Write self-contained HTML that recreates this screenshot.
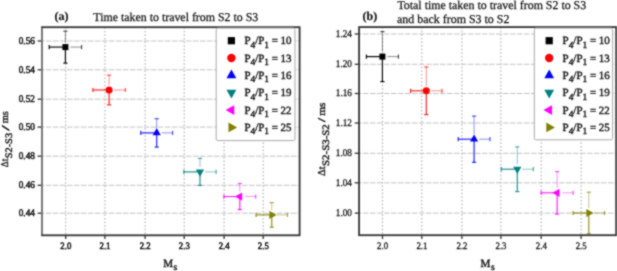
<!DOCTYPE html><html><head><meta charset="utf-8"><style>html,body{margin:0;padding:0;background:#fff;width:617px;height:271px;overflow:hidden}svg{display:block}text{text-rendering:geometricPrecision}</style></head><body>
<svg width="617" height="271" viewBox="0 0 617 271">
<defs><filter id="bl" x="-5%" y="-5%" width="110%" height="110%" color-interpolation-filters="sRGB"><feConvolveMatrix order="3" kernelMatrix="1 2 1 2 8 2 1 2 1" divisor="20" edgeMode="duplicate" preserveAlpha="false"/></filter></defs>
<rect width="617" height="271" fill="#fff"/>
<g filter="url(#bl)">
<line x1="65.70" y1="27.2" x2="65.70" y2="235.3" stroke="#a8a8a8" stroke-width="1" stroke-dasharray="1.6 2"/>
<line x1="104.90" y1="27.2" x2="104.90" y2="235.3" stroke="#a8a8a8" stroke-width="1" stroke-dasharray="1.6 2"/>
<line x1="145.10" y1="27.2" x2="145.10" y2="235.3" stroke="#a8a8a8" stroke-width="1" stroke-dasharray="1.6 2"/>
<line x1="184.20" y1="27.2" x2="184.20" y2="235.3" stroke="#a8a8a8" stroke-width="1" stroke-dasharray="1.6 2"/>
<line x1="224.10" y1="27.2" x2="224.10" y2="235.3" stroke="#a8a8a8" stroke-width="1" stroke-dasharray="1.6 2"/>
<line x1="263.20" y1="27.2" x2="263.20" y2="235.3" stroke="#a8a8a8" stroke-width="1" stroke-dasharray="1.6 2"/>
<line x1="42" y1="41.00" x2="299.6" y2="41.00" stroke="#bcbcbc" stroke-width="0.9" stroke-dasharray="5.6 1.4" stroke-dashoffset="3.1"/>
<line x1="42" y1="69.80" x2="299.6" y2="69.80" stroke="#bcbcbc" stroke-width="0.9" stroke-dasharray="5.6 1.4" stroke-dashoffset="3.1"/>
<line x1="42" y1="99.20" x2="299.6" y2="99.20" stroke="#bcbcbc" stroke-width="0.9" stroke-dasharray="5.6 1.4" stroke-dashoffset="3.1"/>
<line x1="42" y1="127.10" x2="299.6" y2="127.10" stroke="#bcbcbc" stroke-width="0.9" stroke-dasharray="5.6 1.4" stroke-dashoffset="3.1"/>
<line x1="42" y1="156.20" x2="299.6" y2="156.20" stroke="#bcbcbc" stroke-width="0.9" stroke-dasharray="5.6 1.4" stroke-dashoffset="3.1"/>
<line x1="42" y1="185.30" x2="299.6" y2="185.30" stroke="#bcbcbc" stroke-width="0.9" stroke-dasharray="5.6 1.4" stroke-dashoffset="3.1"/>
<line x1="42" y1="213.20" x2="299.6" y2="213.20" stroke="#bcbcbc" stroke-width="0.9" stroke-dasharray="5.6 1.4" stroke-dashoffset="3.1"/>
<line x1="65.70" y1="235.3" x2="65.70" y2="239.10000000000002" stroke="#333333" stroke-width="1.3"/>
<text x="65.80" y="248.60" font-size="9.8" font-family="Liberation Serif, serif" fill="#111111" stroke="#111111" stroke-width="0.5" text-anchor="middle" textLength="11" lengthAdjust="spacingAndGlyphs">2.0</text>
<line x1="104.90" y1="235.3" x2="104.90" y2="239.10000000000002" stroke="#333333" stroke-width="1.3"/>
<text x="105.00" y="248.60" font-size="9.8" font-family="Liberation Serif, serif" fill="#111111" stroke="#111111" stroke-width="0.5" text-anchor="middle" textLength="11" lengthAdjust="spacingAndGlyphs">2.1</text>
<line x1="145.10" y1="235.3" x2="145.10" y2="239.10000000000002" stroke="#333333" stroke-width="1.3"/>
<text x="145.20" y="248.60" font-size="9.8" font-family="Liberation Serif, serif" fill="#111111" stroke="#111111" stroke-width="0.5" text-anchor="middle" textLength="11" lengthAdjust="spacingAndGlyphs">2.2</text>
<line x1="184.20" y1="235.3" x2="184.20" y2="239.10000000000002" stroke="#333333" stroke-width="1.3"/>
<text x="184.30" y="248.60" font-size="9.8" font-family="Liberation Serif, serif" fill="#111111" stroke="#111111" stroke-width="0.5" text-anchor="middle" textLength="11" lengthAdjust="spacingAndGlyphs">2.3</text>
<line x1="224.10" y1="235.3" x2="224.10" y2="239.10000000000002" stroke="#333333" stroke-width="1.3"/>
<text x="224.20" y="248.60" font-size="9.8" font-family="Liberation Serif, serif" fill="#111111" stroke="#111111" stroke-width="0.5" text-anchor="middle" textLength="11" lengthAdjust="spacingAndGlyphs">2.4</text>
<line x1="263.20" y1="235.3" x2="263.20" y2="239.10000000000002" stroke="#333333" stroke-width="1.3"/>
<text x="263.30" y="248.60" font-size="9.8" font-family="Liberation Serif, serif" fill="#111111" stroke="#111111" stroke-width="0.5" text-anchor="middle" textLength="11" lengthAdjust="spacingAndGlyphs">2.5</text>
<line x1="37.6" y1="41.00" x2="42" y2="41.00" stroke="#333333" stroke-width="1.3"/>
<text x="34.90" y="43.80" font-size="10.3" font-family="Liberation Serif, serif" fill="#111111" stroke="#111111" stroke-width="0.5" text-anchor="end" textLength="16.2" lengthAdjust="spacingAndGlyphs">0.56</text>
<line x1="37.6" y1="69.80" x2="42" y2="69.80" stroke="#333333" stroke-width="1.3"/>
<text x="34.90" y="72.60" font-size="10.3" font-family="Liberation Serif, serif" fill="#111111" stroke="#111111" stroke-width="0.5" text-anchor="end" textLength="16.2" lengthAdjust="spacingAndGlyphs">0.54</text>
<line x1="37.6" y1="99.20" x2="42" y2="99.20" stroke="#333333" stroke-width="1.3"/>
<text x="34.90" y="102.00" font-size="10.3" font-family="Liberation Serif, serif" fill="#111111" stroke="#111111" stroke-width="0.5" text-anchor="end" textLength="16.2" lengthAdjust="spacingAndGlyphs">0.52</text>
<line x1="37.6" y1="127.10" x2="42" y2="127.10" stroke="#333333" stroke-width="1.3"/>
<text x="34.90" y="129.90" font-size="10.3" font-family="Liberation Serif, serif" fill="#111111" stroke="#111111" stroke-width="0.5" text-anchor="end" textLength="16.2" lengthAdjust="spacingAndGlyphs">0.50</text>
<line x1="37.6" y1="156.20" x2="42" y2="156.20" stroke="#333333" stroke-width="1.3"/>
<text x="34.90" y="159.00" font-size="10.3" font-family="Liberation Serif, serif" fill="#111111" stroke="#111111" stroke-width="0.5" text-anchor="end" textLength="16.2" lengthAdjust="spacingAndGlyphs">0.48</text>
<line x1="37.6" y1="185.30" x2="42" y2="185.30" stroke="#333333" stroke-width="1.3"/>
<text x="34.90" y="188.10" font-size="10.3" font-family="Liberation Serif, serif" fill="#111111" stroke="#111111" stroke-width="0.5" text-anchor="end" textLength="16.2" lengthAdjust="spacingAndGlyphs">0.46</text>
<line x1="37.6" y1="213.20" x2="42" y2="213.20" stroke="#333333" stroke-width="1.3"/>
<text x="34.90" y="216.00" font-size="10.3" font-family="Liberation Serif, serif" fill="#111111" stroke="#111111" stroke-width="0.5" text-anchor="end" textLength="16.2" lengthAdjust="spacingAndGlyphs">0.44</text>
<rect x="42" y="27.2" width="257.6" height="208.10000000000002" fill="none" stroke="#333333" stroke-width="1.8"/>
<line x1="42" y1="28.099999999999998" x2="42" y2="234.4" stroke="#ffffff" stroke-width="1.8" stroke-opacity="0.3"/>
<g stroke="#000000" stroke-width="0.9" opacity="0.5">
<line x1="70.4" y1="47.1" x2="81.60000000000001" y2="47.1"/>
<line x1="65.4" y1="42.1" x2="65.4" y2="31.1"/>
</g>
<g stroke="#000000" stroke-width="1.1" opacity="0.75">
<line x1="81.60000000000001" y1="45.0" x2="81.60000000000001" y2="49.2"/>
<line x1="63.300000000000004" y1="31.1" x2="67.5" y2="31.1"/>
</g>
<g stroke="#000000" stroke-width="1.15" opacity="1">
<line x1="65.4" y1="47.1" x2="49.2" y2="47.1"/>
<line x1="49.2" y1="45.0" x2="49.2" y2="49.2"/>
<line x1="65.4" y1="47.1" x2="65.4" y2="63.1"/>
<line x1="63.300000000000004" y1="63.1" x2="67.5" y2="63.1"/>
</g>
<rect x="62.40" y="44.10" width="6.00" height="6.00" fill="#000000"/>
<g stroke="#ff0000" stroke-width="0.9" opacity="0.5">
<line x1="114.1" y1="90.0" x2="125.3" y2="90.0"/>
<line x1="109.1" y1="85.0" x2="109.1" y2="75.2"/>
</g>
<g stroke="#ff0000" stroke-width="1.1" opacity="0.75">
<line x1="125.3" y1="87.9" x2="125.3" y2="92.1"/>
<line x1="107.0" y1="75.2" x2="111.19999999999999" y2="75.2"/>
</g>
<g stroke="#ff0000" stroke-width="1.15" opacity="0.9">
<line x1="109.1" y1="90.0" x2="92.89999999999999" y2="90.0"/>
<line x1="92.89999999999999" y1="87.9" x2="92.89999999999999" y2="92.1"/>
<line x1="109.1" y1="90.0" x2="109.1" y2="104.8"/>
<line x1="107.0" y1="104.8" x2="111.19999999999999" y2="104.8"/>
</g>
<circle cx="109.1" cy="90.0" r="3.50" fill="#ff0000"/>
<g stroke="#0000ff" stroke-width="0.9" opacity="0.5">
<line x1="161.7" y1="132.9" x2="172.6" y2="132.9"/>
<line x1="156.7" y1="127.9" x2="156.7" y2="118.7"/>
</g>
<g stroke="#0000ff" stroke-width="1.1" opacity="0.75">
<line x1="172.6" y1="130.8" x2="172.6" y2="135.0"/>
<line x1="154.6" y1="118.7" x2="158.79999999999998" y2="118.7"/>
</g>
<g stroke="#0000ff" stroke-width="1.15" opacity="0.9">
<line x1="156.7" y1="132.9" x2="140.79999999999998" y2="132.9"/>
<line x1="140.79999999999998" y1="130.8" x2="140.79999999999998" y2="135.0"/>
<line x1="156.7" y1="132.9" x2="156.7" y2="147.1"/>
<line x1="154.6" y1="147.1" x2="158.79999999999998" y2="147.1"/>
</g>
<polygon points="156.70,128.10 152.60,135.30 160.80,135.30" fill="#0000ff"/>
<g stroke="#008080" stroke-width="0.9" opacity="0.5">
<line x1="205.0" y1="171.9" x2="216.1" y2="171.9"/>
<line x1="200.0" y1="166.9" x2="200.0" y2="158.4"/>
</g>
<g stroke="#008080" stroke-width="1.1" opacity="0.75">
<line x1="216.1" y1="169.8" x2="216.1" y2="174.0"/>
<line x1="197.9" y1="158.4" x2="202.1" y2="158.4"/>
</g>
<g stroke="#008080" stroke-width="1.15" opacity="0.9">
<line x1="200.0" y1="171.9" x2="183.9" y2="171.9"/>
<line x1="183.9" y1="169.8" x2="183.9" y2="174.0"/>
<line x1="200.0" y1="171.9" x2="200.0" y2="185.4"/>
<line x1="197.9" y1="185.4" x2="202.1" y2="185.4"/>
</g>
<polygon points="200.00,176.70 195.90,169.50 204.10,169.50" fill="#008080"/>
<g stroke="#ff00ff" stroke-width="0.9" opacity="0.5">
<line x1="244.8" y1="196.55" x2="255.70000000000002" y2="196.55"/>
<line x1="239.8" y1="191.55" x2="239.8" y2="183.5"/>
</g>
<g stroke="#ff00ff" stroke-width="1.1" opacity="0.75">
<line x1="255.70000000000002" y1="194.45000000000002" x2="255.70000000000002" y2="198.65"/>
<line x1="237.70000000000002" y1="183.5" x2="241.9" y2="183.5"/>
</g>
<g stroke="#ff00ff" stroke-width="1.15" opacity="0.9">
<line x1="239.8" y1="196.55" x2="223.9" y2="196.55"/>
<line x1="223.9" y1="194.45000000000002" x2="223.9" y2="198.65"/>
<line x1="239.8" y1="196.55" x2="239.8" y2="209.60000000000002"/>
<line x1="237.70000000000002" y1="209.60000000000002" x2="241.9" y2="209.60000000000002"/>
</g>
<polygon points="235.00,196.55 242.20,192.45 242.20,200.65" fill="#ff00ff"/>
<g stroke="#808000" stroke-width="0.9" opacity="0.5">
<line x1="276.75" y1="214.9" x2="287.4" y2="214.9"/>
<line x1="271.75" y1="209.9" x2="271.75" y2="202.65"/>
</g>
<g stroke="#808000" stroke-width="1.1" opacity="0.75">
<line x1="287.4" y1="212.8" x2="287.4" y2="217.0"/>
<line x1="269.65" y1="202.65" x2="273.85" y2="202.65"/>
</g>
<g stroke="#808000" stroke-width="1.15" opacity="0.9">
<line x1="271.75" y1="214.9" x2="256.1" y2="214.9"/>
<line x1="256.1" y1="212.8" x2="256.1" y2="217.0"/>
<line x1="271.75" y1="214.9" x2="271.75" y2="227.15"/>
<line x1="269.65" y1="227.15" x2="273.85" y2="227.15"/>
</g>
<polygon points="276.55,214.90 269.35,210.80 269.35,219.00" fill="#808000"/>
<rect x="216.2" y="28" width="78.80000000000001" height="112.6" rx="1.5" fill="#fff" stroke="#a8a8a8" stroke-width="1"/>
<rect x="227.80" y="37.10" width="7.20" height="7.20" fill="#000000"/>
<text x="244.4" y="44.40" font-size="11" font-family="Liberation Serif, serif" fill="#111111" stroke="#111111" stroke-width="0.38" textLength="47.2" lengthAdjust="spacingAndGlyphs">P<tspan font-size="9.4" dy="3.2">4</tspan><tspan dy="-3.2">/P</tspan><tspan font-size="9.4" dy="3.2">1</tspan><tspan dy="-3.2"> = 10</tspan></text>
<circle cx="231.4" cy="58.040000000000006" r="4.20" fill="#ff0000"/>
<text x="244.4" y="61.74" font-size="11" font-family="Liberation Serif, serif" fill="#111111" stroke="#111111" stroke-width="0.38" textLength="47.2" lengthAdjust="spacingAndGlyphs">P<tspan font-size="9.4" dy="3.2">4</tspan><tspan dy="-3.2">/P</tspan><tspan font-size="9.4" dy="3.2">1</tspan><tspan dy="-3.2"> = 13</tspan></text>
<polygon points="231.40,69.62 226.48,78.26 236.32,78.26" fill="#0000ff"/>
<text x="244.4" y="79.08" font-size="11" font-family="Liberation Serif, serif" fill="#111111" stroke="#111111" stroke-width="0.38" textLength="47.2" lengthAdjust="spacingAndGlyphs">P<tspan font-size="9.4" dy="3.2">4</tspan><tspan dy="-3.2">/P</tspan><tspan font-size="9.4" dy="3.2">1</tspan><tspan dy="-3.2"> = 16</tspan></text>
<polygon points="231.40,98.48 226.48,89.84 236.32,89.84" fill="#008080"/>
<text x="244.4" y="96.42" font-size="11" font-family="Liberation Serif, serif" fill="#111111" stroke="#111111" stroke-width="0.38" textLength="47.2" lengthAdjust="spacingAndGlyphs">P<tspan font-size="9.4" dy="3.2">4</tspan><tspan dy="-3.2">/P</tspan><tspan font-size="9.4" dy="3.2">1</tspan><tspan dy="-3.2"> = 19</tspan></text>
<polygon points="225.64,110.06 234.28,105.14 234.28,114.98" fill="#ff00ff"/>
<text x="244.4" y="113.76" font-size="11" font-family="Liberation Serif, serif" fill="#111111" stroke="#111111" stroke-width="0.38" textLength="47.2" lengthAdjust="spacingAndGlyphs">P<tspan font-size="9.4" dy="3.2">4</tspan><tspan dy="-3.2">/P</tspan><tspan font-size="9.4" dy="3.2">1</tspan><tspan dy="-3.2"> = 22</tspan></text>
<polygon points="237.16,127.40 228.52,122.48 228.52,132.32" fill="#808000"/>
<text x="244.4" y="131.10" font-size="11" font-family="Liberation Serif, serif" fill="#111111" stroke="#111111" stroke-width="0.38" textLength="47.2" lengthAdjust="spacingAndGlyphs">P<tspan font-size="9.4" dy="3.2">4</tspan><tspan dy="-3.2">/P</tspan><tspan font-size="9.4" dy="3.2">1</tspan><tspan dy="-3.2"> = 25</tspan></text>
<line x1="382.50" y1="27.1" x2="382.50" y2="235.2" stroke="#a8a8a8" stroke-width="1" stroke-dasharray="1.6 2"/>
<line x1="421.80" y1="27.1" x2="421.80" y2="235.2" stroke="#a8a8a8" stroke-width="1" stroke-dasharray="1.6 2"/>
<line x1="461.90" y1="27.1" x2="461.90" y2="235.2" stroke="#a8a8a8" stroke-width="1" stroke-dasharray="1.6 2"/>
<line x1="500.90" y1="27.1" x2="500.90" y2="235.2" stroke="#a8a8a8" stroke-width="1" stroke-dasharray="1.6 2"/>
<line x1="541.20" y1="27.1" x2="541.20" y2="235.2" stroke="#a8a8a8" stroke-width="1" stroke-dasharray="1.6 2"/>
<line x1="581.10" y1="27.1" x2="581.10" y2="235.2" stroke="#a8a8a8" stroke-width="1" stroke-dasharray="1.6 2"/>
<line x1="359.1" y1="34.00" x2="616.2" y2="34.00" stroke="#bcbcbc" stroke-width="0.9" stroke-dasharray="5.6 1.4" stroke-dashoffset="3.1"/>
<line x1="359.1" y1="64.30" x2="616.2" y2="64.30" stroke="#bcbcbc" stroke-width="0.9" stroke-dasharray="5.6 1.4" stroke-dashoffset="3.1"/>
<line x1="359.1" y1="93.50" x2="616.2" y2="93.50" stroke="#bcbcbc" stroke-width="0.9" stroke-dasharray="5.6 1.4" stroke-dashoffset="3.1"/>
<line x1="359.1" y1="123.00" x2="616.2" y2="123.00" stroke="#bcbcbc" stroke-width="0.9" stroke-dasharray="5.6 1.4" stroke-dashoffset="3.1"/>
<line x1="359.1" y1="153.30" x2="616.2" y2="153.30" stroke="#bcbcbc" stroke-width="0.9" stroke-dasharray="5.6 1.4" stroke-dashoffset="3.1"/>
<line x1="359.1" y1="182.80" x2="616.2" y2="182.80" stroke="#bcbcbc" stroke-width="0.9" stroke-dasharray="5.6 1.4" stroke-dashoffset="3.1"/>
<line x1="359.1" y1="213.10" x2="616.2" y2="213.10" stroke="#bcbcbc" stroke-width="0.9" stroke-dasharray="5.6 1.4" stroke-dashoffset="3.1"/>
<line x1="382.50" y1="235.2" x2="382.50" y2="239.0" stroke="#333333" stroke-width="1.3"/>
<text x="382.60" y="248.50" font-size="9.8" font-family="Liberation Serif, serif" fill="#111111" stroke="#111111" stroke-width="0.3" text-anchor="middle" textLength="11" lengthAdjust="spacingAndGlyphs">2.0</text>
<line x1="421.80" y1="235.2" x2="421.80" y2="239.0" stroke="#333333" stroke-width="1.3"/>
<text x="421.90" y="248.50" font-size="9.8" font-family="Liberation Serif, serif" fill="#111111" stroke="#111111" stroke-width="0.3" text-anchor="middle" textLength="11" lengthAdjust="spacingAndGlyphs">2.1</text>
<line x1="461.90" y1="235.2" x2="461.90" y2="239.0" stroke="#333333" stroke-width="1.3"/>
<text x="462.00" y="248.50" font-size="9.8" font-family="Liberation Serif, serif" fill="#111111" stroke="#111111" stroke-width="0.3" text-anchor="middle" textLength="11" lengthAdjust="spacingAndGlyphs">2.2</text>
<line x1="500.90" y1="235.2" x2="500.90" y2="239.0" stroke="#333333" stroke-width="1.3"/>
<text x="501.00" y="248.50" font-size="9.8" font-family="Liberation Serif, serif" fill="#111111" stroke="#111111" stroke-width="0.3" text-anchor="middle" textLength="11" lengthAdjust="spacingAndGlyphs">2.3</text>
<line x1="541.20" y1="235.2" x2="541.20" y2="239.0" stroke="#333333" stroke-width="1.3"/>
<text x="541.30" y="248.50" font-size="9.8" font-family="Liberation Serif, serif" fill="#111111" stroke="#111111" stroke-width="0.3" text-anchor="middle" textLength="11" lengthAdjust="spacingAndGlyphs">2.4</text>
<line x1="581.10" y1="235.2" x2="581.10" y2="239.0" stroke="#333333" stroke-width="1.3"/>
<text x="581.20" y="248.50" font-size="9.8" font-family="Liberation Serif, serif" fill="#111111" stroke="#111111" stroke-width="0.3" text-anchor="middle" textLength="11" lengthAdjust="spacingAndGlyphs">2.5</text>
<line x1="354.70000000000005" y1="34.00" x2="359.1" y2="34.00" stroke="#333333" stroke-width="1.3"/>
<text x="352.00" y="36.80" font-size="10.3" font-family="Liberation Serif, serif" fill="#111111" stroke="#111111" stroke-width="0.3" text-anchor="end" textLength="16.2" lengthAdjust="spacingAndGlyphs">1.24</text>
<line x1="354.70000000000005" y1="64.30" x2="359.1" y2="64.30" stroke="#333333" stroke-width="1.3"/>
<text x="352.00" y="67.10" font-size="10.3" font-family="Liberation Serif, serif" fill="#111111" stroke="#111111" stroke-width="0.3" text-anchor="end" textLength="16.2" lengthAdjust="spacingAndGlyphs">1.20</text>
<line x1="354.70000000000005" y1="93.50" x2="359.1" y2="93.50" stroke="#333333" stroke-width="1.3"/>
<text x="352.00" y="96.30" font-size="10.3" font-family="Liberation Serif, serif" fill="#111111" stroke="#111111" stroke-width="0.3" text-anchor="end" textLength="16.2" lengthAdjust="spacingAndGlyphs">1.16</text>
<line x1="354.70000000000005" y1="123.00" x2="359.1" y2="123.00" stroke="#333333" stroke-width="1.3"/>
<text x="352.00" y="125.80" font-size="10.3" font-family="Liberation Serif, serif" fill="#111111" stroke="#111111" stroke-width="0.3" text-anchor="end" textLength="16.2" lengthAdjust="spacingAndGlyphs">1.12</text>
<line x1="354.70000000000005" y1="153.30" x2="359.1" y2="153.30" stroke="#333333" stroke-width="1.3"/>
<text x="352.00" y="156.10" font-size="10.3" font-family="Liberation Serif, serif" fill="#111111" stroke="#111111" stroke-width="0.3" text-anchor="end" textLength="16.2" lengthAdjust="spacingAndGlyphs">1.08</text>
<line x1="354.70000000000005" y1="182.80" x2="359.1" y2="182.80" stroke="#333333" stroke-width="1.3"/>
<text x="352.00" y="185.60" font-size="10.3" font-family="Liberation Serif, serif" fill="#111111" stroke="#111111" stroke-width="0.3" text-anchor="end" textLength="16.2" lengthAdjust="spacingAndGlyphs">1.04</text>
<line x1="354.70000000000005" y1="213.10" x2="359.1" y2="213.10" stroke="#333333" stroke-width="1.3"/>
<text x="352.00" y="215.90" font-size="10.3" font-family="Liberation Serif, serif" fill="#111111" stroke="#111111" stroke-width="0.3" text-anchor="end" textLength="16.2" lengthAdjust="spacingAndGlyphs">1.00</text>
<rect x="359.1" y="27.1" width="257.1" height="208.1" fill="none" stroke="#333333" stroke-width="1.8"/>
<g stroke="#000000" stroke-width="0.9" opacity="0.5">
<line x1="387.4" y1="56.6" x2="398.4" y2="56.6"/>
<line x1="382.4" y1="51.6" x2="382.4" y2="31.6"/>
</g>
<g stroke="#000000" stroke-width="1.1" opacity="0.75">
<line x1="398.4" y1="54.5" x2="398.4" y2="58.7"/>
<line x1="380.29999999999995" y1="31.6" x2="384.5" y2="31.6"/>
</g>
<g stroke="#000000" stroke-width="1.15" opacity="1">
<line x1="382.4" y1="56.6" x2="366.4" y2="56.6"/>
<line x1="366.4" y1="54.5" x2="366.4" y2="58.7"/>
<line x1="382.4" y1="56.6" x2="382.4" y2="81.6"/>
<line x1="380.29999999999995" y1="81.6" x2="384.5" y2="81.6"/>
</g>
<rect x="379.40" y="53.60" width="6.00" height="6.00" fill="#000000"/>
<g stroke="#ff0000" stroke-width="0.9" opacity="0.5">
<line x1="431.3" y1="90.8" x2="442.0" y2="90.8"/>
<line x1="426.3" y1="85.8" x2="426.3" y2="67.0"/>
</g>
<g stroke="#ff0000" stroke-width="1.1" opacity="0.75">
<line x1="442.0" y1="88.7" x2="442.0" y2="92.89999999999999"/>
<line x1="424.2" y1="67.0" x2="428.40000000000003" y2="67.0"/>
</g>
<g stroke="#ff0000" stroke-width="1.15" opacity="0.9">
<line x1="426.3" y1="90.8" x2="410.6" y2="90.8"/>
<line x1="410.6" y1="88.7" x2="410.6" y2="92.89999999999999"/>
<line x1="426.3" y1="90.8" x2="426.3" y2="114.6"/>
<line x1="424.2" y1="114.6" x2="428.40000000000003" y2="114.6"/>
</g>
<circle cx="426.3" cy="90.8" r="3.50" fill="#ff0000"/>
<g stroke="#0000ff" stroke-width="0.9" opacity="0.5">
<line x1="479.1" y1="139.2" x2="490.0" y2="139.2"/>
<line x1="474.1" y1="134.2" x2="474.1" y2="116.1"/>
</g>
<g stroke="#0000ff" stroke-width="1.1" opacity="0.75">
<line x1="490.0" y1="137.1" x2="490.0" y2="141.29999999999998"/>
<line x1="472.0" y1="116.1" x2="476.20000000000005" y2="116.1"/>
</g>
<g stroke="#0000ff" stroke-width="1.15" opacity="0.9">
<line x1="474.1" y1="139.2" x2="458.20000000000005" y2="139.2"/>
<line x1="458.20000000000005" y1="137.1" x2="458.20000000000005" y2="141.29999999999998"/>
<line x1="474.1" y1="139.2" x2="474.1" y2="162.29999999999998"/>
<line x1="472.0" y1="162.29999999999998" x2="476.20000000000005" y2="162.29999999999998"/>
</g>
<polygon points="474.10,134.40 470.00,141.60 478.20,141.60" fill="#0000ff"/>
<g stroke="#008080" stroke-width="0.9" opacity="0.5">
<line x1="522.3" y1="169.2" x2="533.3" y2="169.2"/>
<line x1="517.3" y1="164.2" x2="517.3" y2="146.85"/>
</g>
<g stroke="#008080" stroke-width="1.1" opacity="0.75">
<line x1="533.3" y1="167.1" x2="533.3" y2="171.29999999999998"/>
<line x1="515.1999999999999" y1="146.85" x2="519.4" y2="146.85"/>
</g>
<g stroke="#008080" stroke-width="1.15" opacity="0.9">
<line x1="517.3" y1="169.2" x2="501.29999999999995" y2="169.2"/>
<line x1="501.29999999999995" y1="167.1" x2="501.29999999999995" y2="171.29999999999998"/>
<line x1="517.3" y1="169.2" x2="517.3" y2="191.54999999999998"/>
<line x1="515.1999999999999" y1="191.54999999999998" x2="519.4" y2="191.54999999999998"/>
</g>
<polygon points="517.30,174.00 513.20,166.80 521.40,166.80" fill="#008080"/>
<g stroke="#ff00ff" stroke-width="0.9" opacity="0.5">
<line x1="562.15" y1="192.8" x2="573.15" y2="192.8"/>
<line x1="557.15" y1="187.8" x2="557.15" y2="171.55"/>
</g>
<g stroke="#ff00ff" stroke-width="1.1" opacity="0.75">
<line x1="573.15" y1="190.70000000000002" x2="573.15" y2="194.9"/>
<line x1="555.05" y1="171.55" x2="559.25" y2="171.55"/>
</g>
<g stroke="#ff00ff" stroke-width="1.15" opacity="0.9">
<line x1="557.15" y1="192.8" x2="541.15" y2="192.8"/>
<line x1="541.15" y1="190.70000000000002" x2="541.15" y2="194.9"/>
<line x1="557.15" y1="192.8" x2="557.15" y2="214.05"/>
<line x1="555.05" y1="214.05" x2="559.25" y2="214.05"/>
</g>
<polygon points="552.35,192.80 559.55,188.70 559.55,196.90" fill="#ff00ff"/>
<g stroke="#808000" stroke-width="0.9" opacity="0.5">
<line x1="593.8" y1="213.0" x2="604.5" y2="213.0"/>
<line x1="588.8" y1="208.0" x2="588.8" y2="192.2"/>
</g>
<g stroke="#808000" stroke-width="1.1" opacity="0.75">
<line x1="604.5" y1="210.9" x2="604.5" y2="215.1"/>
<line x1="586.6999999999999" y1="192.2" x2="590.9" y2="192.2"/>
</g>
<g stroke="#808000" stroke-width="1.15" opacity="0.9">
<line x1="588.8" y1="213.0" x2="573.0999999999999" y2="213.0"/>
<line x1="573.0999999999999" y1="210.9" x2="573.0999999999999" y2="215.1"/>
<line x1="588.8" y1="213.0" x2="588.8" y2="233.8"/>
<line x1="586.6999999999999" y1="233.8" x2="590.9" y2="233.8"/>
</g>
<polygon points="593.60,213.00 586.40,208.90 586.40,217.10" fill="#808000"/>
<rect x="534.3" y="28" width="78.30000000000007" height="111.80000000000001" rx="1.5" fill="#fff" stroke="#a8a8a8" stroke-width="1"/>
<rect x="545.60" y="37.10" width="7.20" height="7.20" fill="#000000"/>
<text x="562.6" y="44.40" font-size="11" font-family="Liberation Serif, serif" fill="#111111" stroke="#111111" stroke-width="0.38" textLength="47.2" lengthAdjust="spacingAndGlyphs">P<tspan font-size="9.4" dy="3.2">4</tspan><tspan dy="-3.2">/P</tspan><tspan font-size="9.4" dy="3.2">1</tspan><tspan dy="-3.2"> = 10</tspan></text>
<circle cx="549.2" cy="58.040000000000006" r="4.20" fill="#ff0000"/>
<text x="562.6" y="61.74" font-size="11" font-family="Liberation Serif, serif" fill="#111111" stroke="#111111" stroke-width="0.38" textLength="47.2" lengthAdjust="spacingAndGlyphs">P<tspan font-size="9.4" dy="3.2">4</tspan><tspan dy="-3.2">/P</tspan><tspan font-size="9.4" dy="3.2">1</tspan><tspan dy="-3.2"> = 13</tspan></text>
<polygon points="549.20,69.62 544.28,78.26 554.12,78.26" fill="#0000ff"/>
<text x="562.6" y="79.08" font-size="11" font-family="Liberation Serif, serif" fill="#111111" stroke="#111111" stroke-width="0.38" textLength="47.2" lengthAdjust="spacingAndGlyphs">P<tspan font-size="9.4" dy="3.2">4</tspan><tspan dy="-3.2">/P</tspan><tspan font-size="9.4" dy="3.2">1</tspan><tspan dy="-3.2"> = 16</tspan></text>
<polygon points="549.20,98.48 544.28,89.84 554.12,89.84" fill="#008080"/>
<text x="562.6" y="96.42" font-size="11" font-family="Liberation Serif, serif" fill="#111111" stroke="#111111" stroke-width="0.38" textLength="47.2" lengthAdjust="spacingAndGlyphs">P<tspan font-size="9.4" dy="3.2">4</tspan><tspan dy="-3.2">/P</tspan><tspan font-size="9.4" dy="3.2">1</tspan><tspan dy="-3.2"> = 19</tspan></text>
<polygon points="543.44,110.06 552.08,105.14 552.08,114.98" fill="#ff00ff"/>
<text x="562.6" y="113.76" font-size="11" font-family="Liberation Serif, serif" fill="#111111" stroke="#111111" stroke-width="0.38" textLength="47.2" lengthAdjust="spacingAndGlyphs">P<tspan font-size="9.4" dy="3.2">4</tspan><tspan dy="-3.2">/P</tspan><tspan font-size="9.4" dy="3.2">1</tspan><tspan dy="-3.2"> = 22</tspan></text>
<polygon points="554.96,127.40 546.32,122.48 546.32,132.32" fill="#808000"/>
<text x="562.6" y="131.10" font-size="11" font-family="Liberation Serif, serif" fill="#111111" stroke="#111111" stroke-width="0.38" textLength="47.2" lengthAdjust="spacingAndGlyphs">P<tspan font-size="9.4" dy="3.2">4</tspan><tspan dy="-3.2">/P</tspan><tspan font-size="9.4" dy="3.2">1</tspan><tspan dy="-3.2"> = 25</tspan></text>
<text x="54.40" y="20.20" font-size="12" font-family="Liberation Serif, serif" fill="#111111" stroke="#111111" stroke-width="0.2" font-weight="bold">(a)</text>
<text x="93.30" y="20.60" font-size="12" font-family="Liberation Serif, serif" fill="#111111" stroke="#111111" stroke-width="0.25" textLength="165" lengthAdjust="spacingAndGlyphs">Time taken to travel from S2 to S3</text>
<text x="362.60" y="20.20" font-size="12" font-family="Liberation Serif, serif" fill="#111111" stroke="#111111" stroke-width="0.2" font-weight="bold">(b)</text>
<text x="397.40" y="8.60" font-size="12" font-family="Liberation Serif, serif" fill="#111111" stroke="#111111" stroke-width="0.25" textLength="188.8" lengthAdjust="spacingAndGlyphs">Total time taken to travel from S2 to S3</text>
<text x="397.00" y="22.50" font-size="12" font-family="Liberation Serif, serif" fill="#111111" stroke="#111111" stroke-width="0.25" textLength="112.4" lengthAdjust="spacingAndGlyphs">and back from S3 to S2</text>
<text x="163.30" y="267.20" font-size="11.1" font-family="Liberation Serif, serif" fill="#111111" stroke="#111111" stroke-width="0.38" >M<tspan font-size="9.6" dx="0.4" dy="3.0">s</tspan></text>
<text x="480.60" y="267.20" font-size="11.1" font-family="Liberation Serif, serif" fill="#111111" stroke="#111111" stroke-width="0.38" >M<tspan font-size="9.6" dx="0.4" dy="3.0">s</tspan></text>
<text transform="translate(8.2,167.3) rotate(-90)" font-size="10.5" font-family="Liberation Serif, serif" fill="#111111" stroke="#111111" stroke-width="0.38" textLength="8.5" lengthAdjust="spacingAndGlyphs">Δt</text>
<text transform="translate(11.8,158.3) rotate(-90)" font-size="9.8" font-family="Liberation Serif, serif" fill="#111111" stroke="#111111" stroke-width="0.38" textLength="25.4" lengthAdjust="spacingAndGlyphs">S2-S3</text>
<text transform="translate(8.6,130.7) rotate(-90)" font-size="10.5" font-family="Liberation Serif, serif" fill="#111111" stroke="#111111" stroke-width="0.38" textLength="5.4" lengthAdjust="spacingAndGlyphs">/</text>
<text transform="translate(8.4,123.3) rotate(-90)" font-size="10.5" font-family="Liberation Serif, serif" fill="#111111" stroke="#111111" stroke-width="0.38" textLength="12.1" lengthAdjust="spacingAndGlyphs">ms</text>
<text transform="translate(324.9,176.0) rotate(-90)" font-size="10.5" font-family="Liberation Serif, serif" fill="#111111" stroke="#111111" stroke-width="0.38" textLength="9.6" lengthAdjust="spacingAndGlyphs">Δt</text>
<text transform="translate(328.5,166.0) rotate(-90)" font-size="9.8" font-family="Liberation Serif, serif" fill="#111111" stroke="#111111" stroke-width="0.38" textLength="41.8" lengthAdjust="spacingAndGlyphs">S2-S3-S2</text>
<text transform="translate(325.4,122.0) rotate(-90)" font-size="10.5" font-family="Liberation Serif, serif" fill="#111111" stroke="#111111" stroke-width="0.38" textLength="4.2" lengthAdjust="spacingAndGlyphs">/</text>
<text transform="translate(325.2,115.7) rotate(-90)" font-size="10.5" font-family="Liberation Serif, serif" fill="#111111" stroke="#111111" stroke-width="0.38" textLength="13.2" lengthAdjust="spacingAndGlyphs">ms</text>
</g></svg></body></html>
